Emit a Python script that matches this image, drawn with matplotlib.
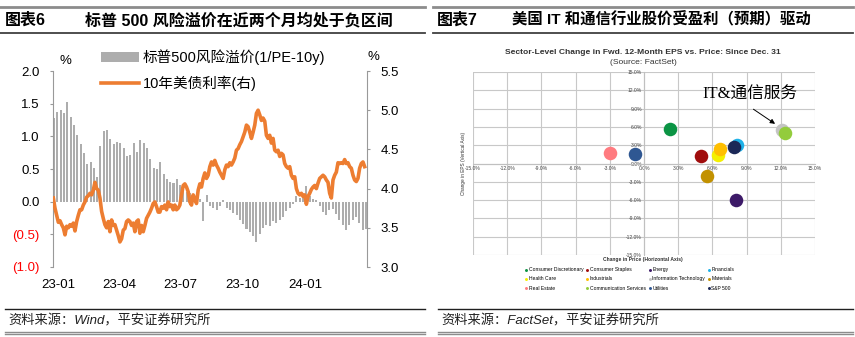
import matplotlib
matplotlib.use('Agg')
import matplotlib.pyplot as plt
import pandas as pd
from matplotlib.lines import Line2D

plt.rcParams['font.family'] = ['Liberation Sans', 'Noto Sans CJK SC']
plt.rcParams['axes.unicode_minus'] = False

W, H = 855, 337

# === 图表6 数据 ===
# 标普500风险溢价 (1/PE-10y), %
erp = [1.28, 1.38, 1.40, 1.35, 1.52, 1.30, 1.18, 1.02, 0.88, 0.74,
       0.58, 0.60, 0.52, 0.38, 0.85, 1.08, 1.10, 0.96, 0.88, 0.92,
       0.90, 0.82, 0.70, 0.72, 0.90, 0.76, 0.95, 0.90, 0.82, 0.66,
       0.52, 0.50, 0.60, 0.42, 0.34, 0.30, 0.28, 0.35, 0.25, 0.18,
       0.15, 0.13, 0.10, 0.12, 0.04, -0.30, 0.10, -0.06, -0.10, -0.12,
       -0.06, 0.02, -0.10, -0.13, -0.18, -0.21, -0.28, -0.34, -0.42, -0.47,
       -0.52, -0.62, -0.50, -0.40, -0.36, -0.37, -0.30, -0.32, -0.28, -0.23,
       -0.15, -0.09, -0.04, 0.08, 0.06, 0.12, 0.24, 0.08, 0.04, 0.02,
       -0.07, -0.16, -0.21, -0.13, -0.11, -0.19, -0.28, -0.35, -0.44, -0.35,
       -0.28, -0.23, -0.33, -0.44, -0.42]

# 10年美债利率, %
ust10y = [3.88, 3.75, 3.66, 3.57, 3.59, 3.54, 3.50, 3.41, 3.52, 3.50,
          3.54, 3.52, 3.56, 3.46, 3.58, 3.66, 3.73, 3.73, 3.79, 3.83,
          3.89, 3.91, 3.94, 3.92, 3.98, 4.08, 4.00, 3.98, 3.88, 3.71,
          3.62, 3.54, 3.50, 3.58, 3.45, 3.60, 3.53, 3.54, 3.47, 3.40,
          3.32, 3.36, 3.47, 3.49, 3.58, 3.60, 3.58, 3.53, 3.56, 3.45,
          3.58, 3.60, 3.43, 3.53, 3.45, 3.53, 3.62, 3.66, 3.70, 3.75,
          3.81, 3.83, 3.77, 3.70,
          3.70, 3.77, 3.75, 3.79, 3.73, 3.83, 3.77, 3.79, 3.73, 3.79,
          3.73, 3.75, 3.79, 3.92, 4.04, 4.06, 4.02, 3.96, 3.83, 3.79,
          3.92, 3.87, 3.81, 3.98, 4.06, 4.02, 4.13, 4.20, 4.13, 4.17,
          4.28, 4.34, 4.30, 4.36, 4.30, 4.26, 4.21, 4.17, 4.13, 4.24,
          4.30, 4.28, 4.33, 4.30, 4.34, 4.39, 4.49, 4.51, 4.56, 4.60,
          4.66, 4.72, 4.81, 4.79, 4.72, 4.64, 4.72, 4.81, 4.96, 5.00,
          4.94, 4.87, 4.90,
          4.86, 4.68, 4.64, 4.68, 4.58, 4.64, 4.49, 4.47, 4.49, 4.41,
          4.45, 4.43, 4.32, 4.28, 4.26, 4.28, 4.17, 4.13, 4.15, 4.00,
          3.94, 3.92, 3.94, 3.90, 3.92, 3.80, 3.90, 3.94, 3.99, 4.02,
          4.04, 4.00, 4.07, 4.13, 4.15, 4.17, 4.15, 4.11, 4.08, 3.94,
          3.88, 4.11, 4.17, 4.21, 4.33, 4.32, 4.33, 4.32, 4.37, 4.32,
          4.33, 4.28, 4.26, 4.17, 4.11, 4.09, 4.13, 4.26, 4.32, 4.34,
          4.28]

erp_dates = pd.date_range('2022-12-26', '2024-03-31', periods=len(erp))
ust_dates = pd.date_range('2022-12-25', '2024-03-29', periods=len(ust10y))
month_ticks = pd.to_datetime(['2023-01-01', '2023-04-01', '2023-07-01', '2023-10-01', '2024-01-01'])
month_labels = ['23-01', '23-04', '23-07', '23-10', '24-01']
left_ticks = [-1.0, -0.5, 0.0, 0.5, 1.0, 1.5, 2.0]
left_labels = ['(1.0)', '(0.5)', '0.0', '0.5', '1.0', '1.5', '2.0']
right_ticks = [3.0, 3.5, 4.0, 4.5, 5.0, 5.5]

# === 图表7 数据 ===
sectors = ['Consumer Discretionary', 'Consumer Staples', 'Energy', 'Financials',
           'Health Care', 'Industrials', 'Information Technology', 'Materials',
           'Real Estate', 'Communication Services', 'Utilities', 'S&P 500']
price_chg = [2.3, 5.0, 8.1, 8.2, 6.5, 6.7, 12.1, 5.5, -3.0, 12.4, -0.8, 7.9]
eps_chg = [5.6, 1.3, -6.0, 3.1, 1.4, 2.3, 5.5, -2.0, 1.8, 5.0, 1.5, 2.75]
sector_colors = ['#0b9444', '#a00d0d', '#3d1a68', '#1eb1e8',
                 '#f4f000', '#ffbf00', '#c4c4c4', '#c29100',
                 '#ff7b80', '#93cc3c', '#2f5792', '#1c2857']
pct_ticks = [-15, -12, -9, -6, -3, 0, 3, 6, 9, 12, 15]

fig = plt.figure(figsize=(W / 100, H / 100), dpi=100)


def px_axes(x0, y0, x1, y1):
    return fig.add_axes([x0 / W, 1 - y1 / H, (x1 - x0) / W, (y1 - y0) / H])


def hline(x0, x1, y, color, lw):
    fig.add_artist(Line2D([x0 / W, x1 / W], [1 - y / H, 1 - y / H],
                          transform=fig.transFigure, color=color, lw=lw))


# === 表头・表尾 ===
for x0, x1 in [(0, 425), (433, 853)]:
    hline(x0, x1, 6.5, '#8c8c8c', 2.0)
    hline(x0, x1, 33, '#404040', 1.3)
    hline(x0 + 5, x1, 309, '#202020', 1.0)
    hline(x0 + 5, x1, 331.5, '#8c8c8c', 1.0)
    hline(x0 + 5, x1, 333.5, '#8c8c8c', 1.0)

fig.text(5 / W, 1 - 20 / H, '图表6', fontsize=11.5, fontweight='bold', va='center')
fig.text(85 / W, 1 - 20 / H, '标普 500 风险溢价在近两个月均处于负区间',
         fontsize=11.5, fontweight='bold', va='center')
fig.text(437 / W, 1 - 20 / H, '图表7', fontsize=11.5, fontweight='bold', va='center')
fig.text(512 / W, 1 - 20 / H, '美国 IT 和通信行业股价受盈利（预期）驱动',
         fontsize=11.1, fontweight='bold', va='center')
fig.text(8 / W, 1 - 321 / H, '资料来源：Wind，平安证券研究所', fontsize=9.5,
         style='italic', va='center', color='#202020')
fig.text(441 / W, 1 - 321 / H, '资料来源：FactSet，平安证券研究所', fontsize=9.5,
         style='italic', va='center', color='#202020')

# === 1. 风险溢价与美债利率 ===
ax = px_axes(53, 71, 367, 267)
bars = ax.bar(erp_dates, erp, width=3.0, color='#adadad', label='标普500风险溢价(1/PE-10y)')
ax.set_ylim(-1.0, 2.0)
ax.set_xlim(pd.Timestamp('2022-12-24 12:00'), pd.Timestamp('2024-04-01 12:00'))
ax.set_yticks(left_ticks)
ax.set_yticklabels(left_labels)
for lab, v in zip(ax.get_yticklabels(), left_ticks):
    lab.set_color('#ff0000' if v < 0 else 'black')
ax.set_xticks(month_ticks)
ax.set_xticklabels(month_labels)
ax.tick_params(axis='x', length=0, pad=9, labelsize=9.5)
ax.tick_params(axis='y', length=2.5, color='#999999', pad=7, labelsize=9.5)
for s in ['top', 'bottom', 'right']:
    ax.spines[s].set_visible(False)
ax.spines['left'].set_color('#999999')

ax2 = ax.twinx()
line, = ax2.plot(ust_dates, ust10y, color='#ed7d31', lw=2.6, label='10年美债利率(右)')
ax2.set_ylim(3.0, 5.5)
ax2.set_yticks(right_ticks)
ax2.tick_params(axis='y', length=2.5, color='#999999', pad=7, labelsize=9.5)
for s in ['top', 'bottom', 'left']:
    ax2.spines[s].set_visible(False)
ax2.spines['right'].set_color('#999999')

fig.text(65 / W, 1 - 61 / H, '%', fontsize=9.5, ha='center', va='center')
fig.text(373 / W, 1 - 57 / H, '%', fontsize=9.5, ha='center', va='center')
fig.legend([bars, line], [bars.get_label(), line.get_label()], loc='upper left',
           bbox_to_anchor=(101 / W, 1 - 49 / H), frameon=False, fontsize=10.5,
           handlelength=2.6, handletextpad=0.25, labelspacing=0.75,
           borderpad=0, borderaxespad=0)

# === 2. 行业EPS变化 vs 股价变化 ===
axs = px_axes(473, 72, 815, 255)
for name, xv, yv, c in zip(sectors, price_chg, eps_chg, sector_colors):
    axs.scatter(xv, yv, s=95, color=c, label=name, zorder=3, linewidths=0)
axs.set_xlim(-15, 15)
axs.set_ylim(-15, 15)
axs.set_xticks(pct_ticks)
axs.set_yticks(pct_ticks)
axs.set_xticklabels([f'{v:.1f}%' for v in pct_ticks])
axs.set_yticklabels([f'{v:.1f}%' for v in pct_ticks])
axs.grid(color='#c8c8c8', lw=0.8)
axs.set_axisbelow(True)
axs.spines['left'].set_position(('data', 0))
axs.spines['bottom'].set_position(('data', 0))
axs.spines['left'].set_color('#c0c0c0')
axs.spines['bottom'].set_color('#c0c0c0')
axs.spines['top'].set_visible(False)
axs.spines['right'].set_visible(False)
axs.tick_params(length=0, labelsize=3.6, pad=1.5, labelcolor='#444444')

fig.text(643 / W, 1 - 53 / H, 'Sector-Level Change in Fwd. 12-Month EPS vs. Price: Since Dec. 31',
         fontsize=6.1, fontweight='bold', ha='center', va='center', color='#333333')
fig.text(643 / W, 1 - 62 / H, '(Source: FactSet)', fontsize=6.1, ha='center', va='center',
         color='#333333')
fig.text(463 / W, 1 - 163 / H, 'Change in EPS (Vertical Axis)', fontsize=3.4,
         rotation=90, ha='center', va='center', color='#333333')
fig.text(643 / W, 1 - 259 / H, 'Change in Price (Horizontal Axis)', fontsize=3.6,
         fontweight='bold', ha='center', va='center', color='#333333')

# IT&通信服务 标注
axs.text(9.3, 11.2, 'IT&通信服务', fontsize=12, family=['Liberation Serif', 'Noto Sans CJK SC'],
         ha='center', va='center')
axs.annotate('', xy=(11.5, 6.5), xytext=(9.6, 8.9),
             arrowprops=dict(arrowstyle='-|>', color='black', lw=0.7, mutation_scale=7,
                             shrinkA=0, shrinkB=0))

handles, labels = axs.get_legend_handles_labels()
order = [0, 4, 8, 1, 5, 9, 2, 6, 10, 3, 7, 11]
fig.legend([handles[i] for i in order], [labels[i] for i in order], ncol=4,
           loc='upper left', bbox_to_anchor=(525 / W, 1 - 267 / H), frameon=False,
           fontsize=3.6, markerscale=0.22, handlelength=0.5, handletextpad=0.2,
           columnspacing=0.6, labelspacing=0.85, borderpad=0, borderaxespad=0)

fig.savefig('out.png', dpi=100)
